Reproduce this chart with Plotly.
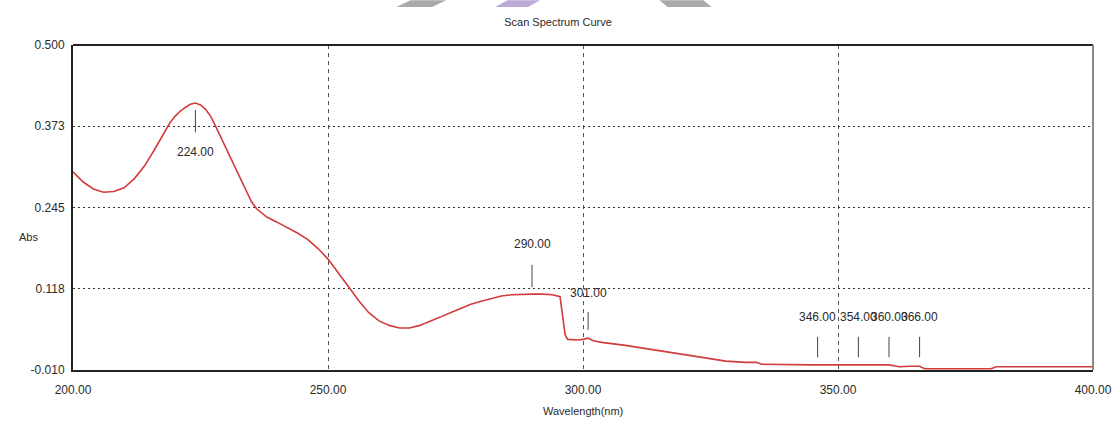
import plotly.graph_objects as go

# ---- data ----
wavelength = [200, 202, 204, 206, 208, 210, 212, 214, 216, 218, 219, 220, 221, 222, 223,
              224, 225, 226, 227, 228, 229, 230, 231, 232, 233, 234, 235, 236, 237, 238,
              240, 242, 244, 246, 248, 250, 252, 254, 256, 258, 260, 262, 264, 266, 268,
              270, 272, 274, 276, 278, 280, 282, 284, 286, 288, 290, 292, 294, 295.5,
              296.5, 297, 299, 300, 301, 302, 304, 308, 312, 316, 320, 324, 328, 332,
              334, 335, 345, 360, 362, 364, 366, 367, 380, 381, 400]
absorbance = [0.301, 0.285, 0.274, 0.269, 0.270, 0.276, 0.290, 0.310, 0.336, 0.365, 0.378,
              0.388, 0.396, 0.402, 0.407, 0.409, 0.406, 0.399, 0.388, 0.372, 0.355, 0.339,
              0.322, 0.305, 0.288, 0.271, 0.254, 0.243, 0.236, 0.230, 0.222, 0.214, 0.205,
              0.195, 0.181, 0.164, 0.143, 0.121, 0.099, 0.080, 0.067, 0.060, 0.056, 0.056,
              0.060, 0.066, 0.073, 0.080, 0.087, 0.093, 0.098, 0.102, 0.106, 0.108, 0.109,
              0.109, 0.109, 0.108, 0.105, 0.045, 0.038, 0.037, 0.038, 0.040, 0.036, 0.033,
              0.029, 0.024, 0.019, 0.014, 0.009, 0.004, 0.002, 0.002, -0.001, -0.002,
              -0.002, -0.005, -0.004, -0.004, -0.008, -0.008, -0.005, -0.005]

peak_wavelengths = [224, 290, 301, 346, 354, 360, 366]
peak_labels = ["224.00", "290.00", "301.00", "346.00", "354.00", "360.00", "366.00"]
# (tick top, tick bottom, label y) in absorbance units
peak_marks = [(0.398, 0.363, 0.332), (0.155, 0.120, 0.188), (0.081, 0.053, 0.111),
              (0.042, 0.010, 0.073), (0.042, 0.010, 0.073), (0.042, 0.010, 0.073),
              (0.042, 0.010, 0.073)]

x_ticks = [200, 250, 300, 350, 400]
x_tick_text = ["200.00", "250.00", "300.00", "350.00", "400.00"]
y_ticks = [-0.010, 0.1175, 0.245, 0.3725, 0.500]
y_tick_text = ["-0.010", "0.118", "0.245", "0.373", "0.500"]

FONT = "Liberation Sans, Arial, sans-serif"
TXT = "#2a2a2a"

fig = go.Figure()
fig.add_trace(go.Scatter(x=wavelength, y=absorbance, mode="lines",
                         line=dict(color="#d23c3c", width=1.6), hoverinfo="skip",
                         showlegend=False))

for wl, lab, (t, b, ly) in zip(peak_wavelengths, peak_labels, peak_marks):
    fig.add_shape(type="line", xref="x", yref="y", x0=wl, x1=wl, y0=b, y1=t,
                  line=dict(color="#444444", width=1))
    fig.add_annotation(x=wl, y=ly, xref="x", yref="y", text=lab, showarrow=False,
                       font=dict(family=FONT, size=12, color=TXT))

# frame: top black, right grey
fig.add_shape(type="line", xref="x domain", yref="y domain", x0=0, x1=1, y0=1, y1=1,
              line=dict(color="#222222", width=2))
fig.add_shape(type="line", xref="x domain", yref="y domain", x0=1, x1=1, y0=0, y1=1,
              line=dict(color="#8a8a8a", width=2))

# watermark fragments at top
for path, col in [
    ("M 0.317,1.117 L 0.352,1.117 L 0.366,1.138 L 0.331,1.138 Z", "#aaaaaa"),
    ("M 0.414,1.117 L 0.446,1.117 L 0.458,1.138 L 0.426,1.138 Z", "#bba9d6"),
    ("M 0.583,1.117 L 0.626,1.117 L 0.618,1.138 L 0.575,1.138 Z", "#aaaaaa"),
]:
    fig.add_shape(type="path", xref="paper", yref="paper", path=path,
                  fillcolor=col, line=dict(width=0))

fig.add_annotation(x=-0.055, y=0.409, xref="paper", yref="paper", text="Abs",
                   showarrow=False, font=dict(family=FONT, size=11, color=TXT))
fig.add_annotation(x=0.5, y=-0.151, xref="paper", yref="paper", text="Wavelength(nm)",
                   showarrow=False, font=dict(family=FONT, size=11, color=TXT))

fig.update_layout(
    width=1116, height=430,
    margin=dict(l=73, r=23, t=45, b=60),
    paper_bgcolor="white", plot_bgcolor="white",
    title=dict(text="Scan Spectrum Curve", x=0.5, xanchor="center", y=1 - 22 / 430,
               yanchor="middle", font=dict(family=FONT, size=11, color=TXT)),
    font=dict(family=FONT, size=12, color=TXT),
)
fig.update_xaxes(range=[200, 400], tickvals=x_ticks, ticktext=x_tick_text,
                 showgrid=True, gridcolor="#555555", gridwidth=1, griddash="4px,4px",
                 showline=True, linecolor="#222222", linewidth=2, ticks="",
                 zeroline=False, ticklabelstandoff=8, automargin=False,
                 tickfont=dict(family=FONT, size=12, color=TXT))
fig.update_yaxes(range=[-0.010, 0.500], tickvals=y_ticks, ticktext=y_tick_text,
                 showgrid=True, gridcolor="#333333", gridwidth=1.2, griddash="2px,3px",
                 showline=True, linecolor="#222222", linewidth=2, ticks="",
                 zeroline=False, ticklabelstandoff=4, automargin=False,
                 tickfont=dict(family=FONT, size=12, color=TXT))

fig.write_html("out.html")
